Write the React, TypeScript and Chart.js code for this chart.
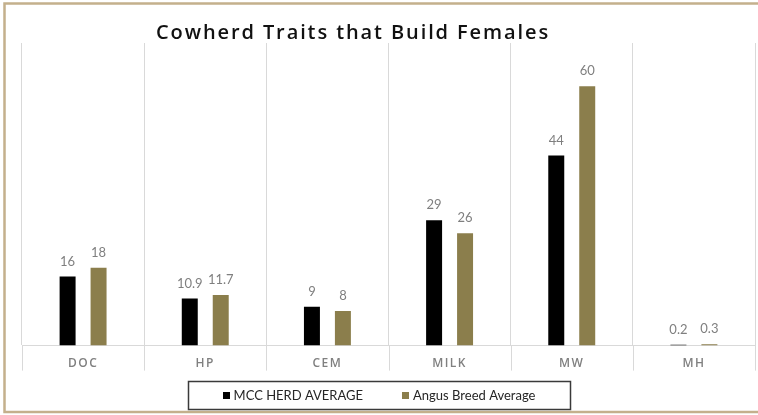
import React, { useEffect, useRef } from "react";
import { Chart, registerables } from "chart.js";

Chart.register(...registerables);

const categories = ["DOC", "HP", "CEM", "MILK", "MW", "MH"];
const mccHerdAverage = [16, 10.9, 9, 29, 44, 0.2];
const angusBreedAverage = [18, 11.7, 8, 26, 60, 0.3];
const seriesLabels = ["MCC HERD AVERAGE", "Angus Breed Average"];
const seriesColors = ["#000000", "#8b7e4c"];
const titleText = "Cowherd Traits that Build Females";
const yMax = 70;

const FONT = "Lato, 'Open Sans', sans-serif";
const TITLE_FONT = "'Open Sans', sans-serif";

const decorPlugin = {
  id: "decor",
  beforeDraw(chart: any) {
    // letter spacing for the category labels drawn by the x scale
    chart.ctx.letterSpacing = "1.5px";
  },
  afterDatasetsDraw(chart: any) {
    const ctx = chart.ctx;
    ctx.save();
    ctx.letterSpacing = "0px";
    ctx.font = `13px ${FONT}`;
    ctx.fillStyle = "#7f7f7f";
    ctx.textAlign = "center";
    ctx.textBaseline = "middle";
    chart.data.datasets.forEach((ds: any, i: number) => {
      const meta = chart.getDatasetMeta(i);
      meta.data.forEach((bar: any, j: number) => {
        ctx.fillText(String(ds.data[j]), bar.x, bar.y - 15);
      });
    });
    ctx.restore();
  },
  afterDraw(chart: any) {
    const ctx = chart.ctx;
    ctx.letterSpacing = "0px";
    const cx = chart.width / 2;
    const area = chart.chartArea;
    const xs = chart.scales.x;
    ctx.save();
    // category separator extensions below the axis
    ctx.strokeStyle = "#d9d9d9";
    ctx.lineWidth = 1;
    const n = categories.length;
    for (let i = 0; i <= n; i++) {
      const px = Math.round(xs.left + (i * (xs.right - xs.left)) / n) + 0.5;
      ctx.beginPath();
      ctx.moveTo(px, area.bottom);
      ctx.lineTo(px, area.bottom + 25);
      ctx.stroke();
    }
    // title
    ctx.font = `600 20px ${TITLE_FONT}`;
    ctx.letterSpacing = "1.9px";
    ctx.fillStyle = "#111111";
    ctx.textAlign = "left";
    ctx.textBaseline = "middle";
    ctx.fillText(chart.options.plugins.customTitle.text, 156, 33);
    ctx.letterSpacing = "0px";
    // outer frame
    ctx.strokeStyle = "#c4b08c";
    ctx.lineWidth = 2.5;
    ctx.strokeRect(4.5, 3.5, chart.width + 10, 408.5);
    // legend box
    ctx.strokeStyle = "#3a3a3a";
    ctx.lineWidth = 1.5;
    const bw = 382;
    const bh = 28;
    const by = 381;
    ctx.strokeRect(Math.round(cx - bw / 2) + 0.5, by + 0.5, bw, bh);
    // legend items
    ctx.font = `13px ${FONT}`;
    ctx.textBaseline = "middle";
    ctx.textAlign = "left";
    const sq = 7;
    const sqGap = 4;
    const itemGap = 39;
    const widths = chart.data.datasets.map(
      (ds: any) => sq + sqGap + ctx.measureText(ds.label).width
    );
    const total = widths.reduce((a: number, b: number) => a + b, 0) + itemGap * (widths.length - 1);
    let x = cx - total / 2;
    const cy = by + bh / 2;
    chart.data.datasets.forEach((ds: any, i: number) => {
      ctx.fillStyle = ds.backgroundColor;
      ctx.fillRect(Math.round(x), Math.round(cy - sq / 2), sq, sq);
      ctx.fillStyle = "#262626";
      ctx.fillText(ds.label, x + sq + sqGap, cy + 0.5);
      x += widths[i] + itemGap;
    });
    ctx.restore();
  },
};

export default function App() {
  const canvasRef = useRef<HTMLCanvasElement | null>(null);

  useEffect(() => {
    if (!canvasRef.current) return;
    const chart = new Chart(canvasRef.current, {
      type: "bar",
      data: {
        labels: categories,
        datasets: [
          {
            label: seriesLabels[0],
            data: mccHerdAverage,
            backgroundColor: seriesColors[0],
            categoryPercentage: 0.507,
            barPercentage: 0.516,
          },
          {
            label: seriesLabels[1],
            data: angusBreedAverage,
            backgroundColor: seriesColors[1],
            categoryPercentage: 0.507,
            barPercentage: 0.516,
          },
        ],
      },
      options: {
        animation: false,
        responsive: true,
        maintainAspectRatio: false,
        layout: { padding: { left: 22, right: 3, top: 43, bottom: 33 } },
        plugins: {
          legend: { display: false },
          tooltip: { enabled: false },
          title: { display: false },
          customTitle: { text: titleText },
        } as any,
        scales: {
          x: {
            offset: true,
            grid: {
              offset: true,
              color: "#d9d9d9",
              lineWidth: 1,
              drawTicks: false,
              drawOnChartArea: true,
            },
            border: { display: true, color: "#d9d9d9" },
            ticks: {
              color: "#808080",
              padding: 11,
              font: { family: TITLE_FONT, size: 12, weight: "600" },
            },
          },
          y: { display: false, min: 0, max: yMax },
        },
      },
      plugins: [decorPlugin],
    });
    return () => chart.destroy();
  }, []);

  return (
    <div style={{ position: "absolute", left: 0, top: 0, width: 758, height: 415, background: "#fff" }}>
      <canvas ref={canvasRef} />
    </div>
  );
}
